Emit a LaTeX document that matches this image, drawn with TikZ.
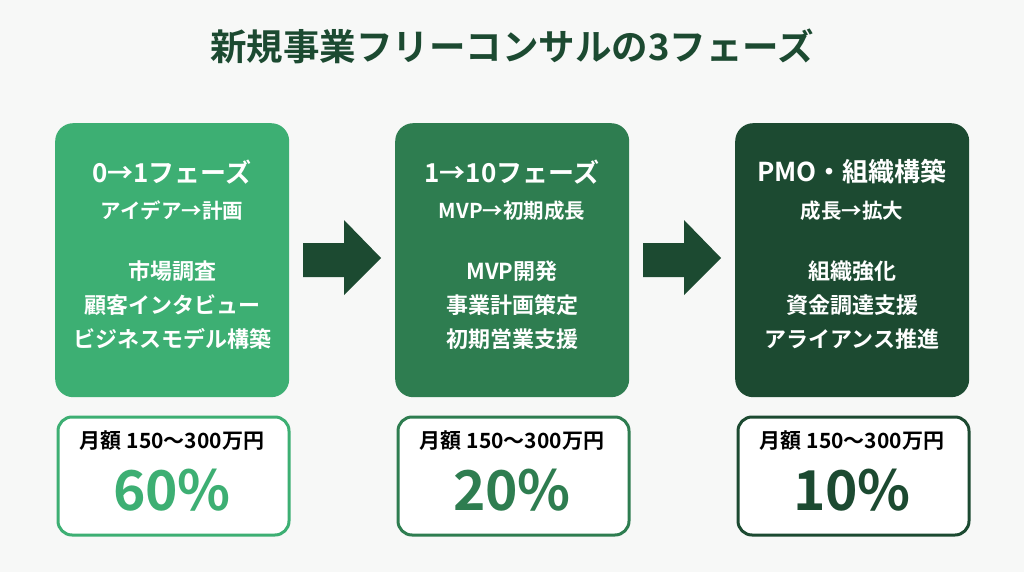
\documentclass[tikz,border=0pt]{standalone}
\usepackage{fontspec}
\setmainfont{Noto Sans CJK JP}[BoldFont={* Bold}]
\begin{document}
\begin{tikzpicture}[x=1pt,y=-1pt,
  phase/.style={rounded corners=18pt,minimum width=234pt,minimum height=274pt,anchor=north west},
  cost/.style={rounded corners=14pt,line width=3pt,fill=white,minimum width=231pt,minimum height=118pt,anchor=north west},
  arr/.style={fill=c3},
  t/.style={white,font=\bfseries,anchor=center},
]
\definecolor{c1}{HTML}{3DAF73}
\definecolor{c2}{HTML}{2E7D50}
\definecolor{c3}{HTML}{1C4A31}
\definecolor{bg}{HTML}{F7F8F7}
\fill[bg] (0,0) rectangle (1024,572);
\useasboundingbox (0,0) rectangle (1024,572);
\node[c3,font=\fontsize{36.5}{40}\selectfont\bfseries] (title) at (512,46) {新規事業フリーコンサルの3フェーズ};
\foreach \i/\x/\c/\h/\s/\a/\b/\d/\p in {1/55/c1/0→1フェーズ/アイデア→計画/市場調査/顧客インタビュー/ビジネスモデル構築/60\%,
  2/395/c2/1→10フェーズ/MVP→初期成長/MVP開発/事業計画策定/初期営業支援/20\%,
  3/735/c3/PMO・組織構築/成長→拡大/組織強化/資金調達支援/アライアンス推進/10\%}{
  \node[phase,fill=\c] (p\i) at (\x,123) {};
  \node[t,font=\fontsize{26}{30}\selectfont\bfseries] (h\i) at (\x+117,172) {\h};
  \node[t,font=\fontsize{20.5}{24}\selectfont\bfseries] (s\i) at (\x+117,211) {\s};
  \node[t,font=\fontsize{22}{26}\selectfont\bfseries] (a\i) at (\x+117,271) {\a};
  \node[t,font=\fontsize{22}{26}\selectfont\bfseries] (b\i) at (\x+117,305) {\b};
  \node[t,font=\fontsize{22}{26}\selectfont\bfseries] (d\i) at (\x+117,339) {\d};
  \node[cost,draw=\c] (k\i) at (\x+1.5,415.5) {};
  \node[black,font=\fontsize{21}{25}\selectfont\bfseries] (m\i) at (\x+117,441) {月額 150〜300万円};
  \node[\c,font=\fontsize{55}{60}\selectfont\bfseries] (q\i) at (\x+117,490) {\p};
}
\foreach \x in {303,643}{
  \fill[arr] (\x,243) -- (\x+41,243) -- (\x+41,220) -- (\x+78,258) -- (\x+41,295) -- (\x+41,277) -- (\x,277) -- cycle;
}
\end{tikzpicture}
\end{document}
